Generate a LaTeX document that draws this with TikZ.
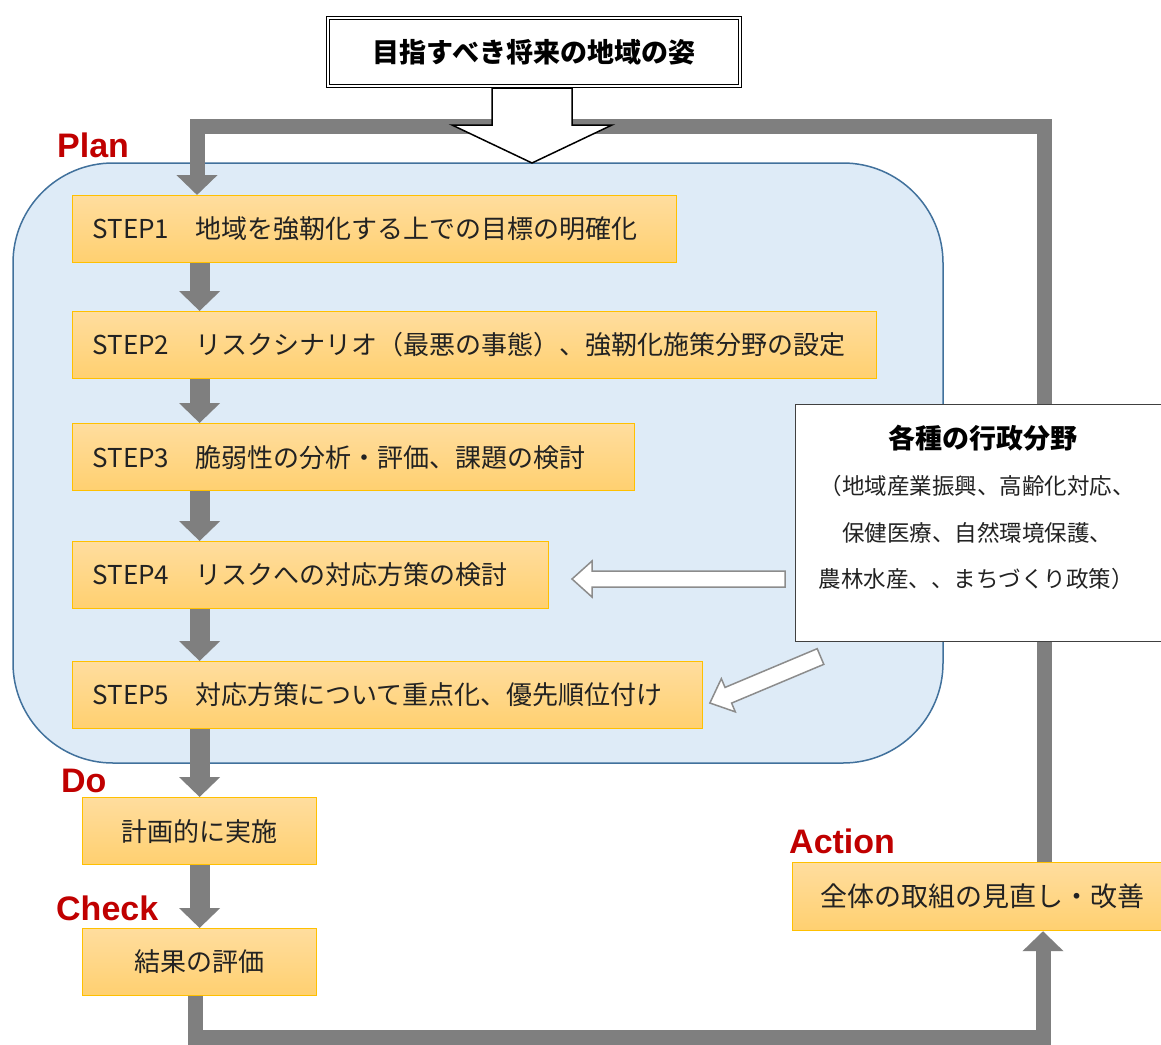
\documentclass[tikz,border=0pt]{standalone}
\usepackage{fontspec}
\setmainfont{Noto Sans CJK JP}
\newfontfamily\labfont{Liberation Sans}
\usetikzlibrary{arrows.meta}
\definecolor{boxtop}{HTML}{FFDD9E}
\definecolor{boxbot}{HTML}{FFD070}
\definecolor{boxline}{HTML}{FFC000}
\definecolor{blueFill}{HTML}{DEEBF7}
\definecolor{blueLine}{HTML}{41719C}
\definecolor{grayArrow}{HTML}{7F7F7F}
\definecolor{hollowLine}{HTML}{8C8C8C}
\definecolor{labRed}{HTML}{C00000}
\definecolor{txt}{HTML}{222222}
\begin{document}
\begin{tikzpicture}[x=1pt,y=-1pt,
  stepbox/.style={draw=boxline, line width=1.2pt, top color=boxtop, bottom color=boxbot,
    anchor=north west, minimum height=67pt, inner xsep=20pt, inner ysep=0pt, align=left,
    font=\fontsize{26}{31}\selectfont, text=txt},
  cbox/.style={draw=boxline, line width=1.2pt, top color=boxtop, bottom color=boxbot,
    anchor=north west, minimum height=67pt, inner sep=0pt, align=center,
    font=\fontsize{26}{31}\selectfont, text=txt},
  sarrow/.style={draw=grayArrow, line width=20pt, -{Triangle[width=40pt,length=20pt]}},
  loopline/.style={draw=grayArrow, line width=15pt, line join=miter, -{Triangle[width=40pt,length=20pt]}},
  hollow/.style={draw=hollowLine, line width=1.5pt, fill=white, line join=miter},
  lab/.style={text=labRed, font=\labfont\bfseries\fontsize{34}{40}\selectfont, inner sep=0pt, anchor=base west},
  admtxt/.style={font=\fontsize{22.5}{27}\selectfont, text=txt, inner sep=0pt}
]
\useasboundingbox (0,0) rectangle (1161,1044);
\clip (0,0) rectangle (1161,1044);
\fill[white] (0,0) rectangle (1161,1044);

% Plan region
\draw[fill=blueFill, draw=blueLine, line width=1.5pt, rounded corners=100pt] (13,163) rectangle (943,763);

% steps
\node[stepbox, text width=564pt] (s1) at (72,195) {STEP1　地域を強靭化する上での目標の明確化};
\node[stepbox, text width=764pt] (s2) at (72,311) {STEP2　リスクシナリオ（最悪の事態）、強靭化施策分野の設定};
\node[stepbox, text width=522pt] (s3) at (72,423) {STEP3　脆弱性の分析・評価、課題の検討};
\node[stepbox, text width=436pt] (s4) at (72,541) {STEP4　リスクへの対応方策の検討};
\node[stepbox, text width=590pt] (s5) at (72,661) {STEP5　対応方策について重点化、優先順位付け};
\node[cbox, minimum width=234pt] (do) at (82,797) {計画的に実施};
\node[cbox, minimum width=234pt] (chk) at (82,928) {結果の評価};
\node[cbox, minimum width=379pt, minimum height=68pt, font=\fontsize{27}{32}\selectfont] (act) at (792,862) {全体の取組の見直し・改善};

% loop lines
\coordinate (tr) at (1044,126);
\coordinate (tl) at (197,126);
\coordinate (bl) at (195,1037);
\coordinate (br) at (1043,1037);
\draw[loopline] (act.north -| tr) -- (tr) -- (tl) -- (tl |- s1.north);
\draw[loopline] (chk.south -| bl) -- (bl) -- (br) -- (br |- act.south);

% step arrows
\draw[sarrow] (s1.south -| do.north) -- (s2.north -| do.north);
\draw[sarrow] (s2.south -| do.north) -- (s3.north -| do.north);
\draw[sarrow] (s3.south -| do.north) -- (s4.north -| do.north);
\draw[sarrow] (s4.south -| do.north) -- (s5.north -| do.north);
\draw[sarrow] (s5.south -| do.north) -- (do.north);
\draw[sarrow] (do.south) -- (chk.north);

% goal box and hollow arrow
\node[draw=black, line width=1pt, double=white, double distance=2.5pt, fill=white,
  minimum width=412pt, minimum height=68pt, inner sep=0pt, text=black,
  font=\bfseries\fontsize{27}{32}\selectfont] (goal) at (534,52) {目指すべき将来の地域の姿};
\draw[draw=black, line width=1.5pt, fill=white, line join=miter]
  (492,88) -- (492,125) -- (452,125) -- (532,163) -- (612,125) -- (572,125) -- (572,88) -- cycle;

% administrative fields box
\node[draw={rgb,255:red,64;green,64;blue,64}, line width=1.2pt, fill=white, anchor=north west,
  minimum width=385pt, minimum height=237pt] (adm) at (795,404) {};
\node[font=\bfseries\fontsize{27}{32}\selectfont, text=black, inner sep=0pt] (admt) at (983,438) {各種の行政分野};
\node[admtxt] (adm1) at (977,486) {（地域産業振興、高齢化対応、};
\node[admtxt] (adm2) at (977,533) {保健医療、自然環境保護、};
\node[admtxt] (adm3) at (976,579) {農林水産、、まちづくり政策）};

% hollow arrows
\draw[hollow] (785,571) -- (592,571) -- (592,561) -- (572,579) -- (592,597) -- (592,587) -- (785,587) -- cycle;
\begin{scope}[shift={(820.5,656.5)}, rotate=202.8]
\draw[hollow] (0,-8.5) -- (100,-8.5) -- (100,-18) -- (120,0) -- (100,18) -- (100,8.5) -- (0,8.5) -- cycle;
\end{scope}

% PDCA labels
\node[lab] (plan) at (57,157) {Plan};
\node[lab] (dolab) at (61,792) {Do};
\node[lab] (chklab) at (56,920) {Check};
\node[lab] (actlab) at (789,853) {Action};
\end{tikzpicture}
\end{document}
